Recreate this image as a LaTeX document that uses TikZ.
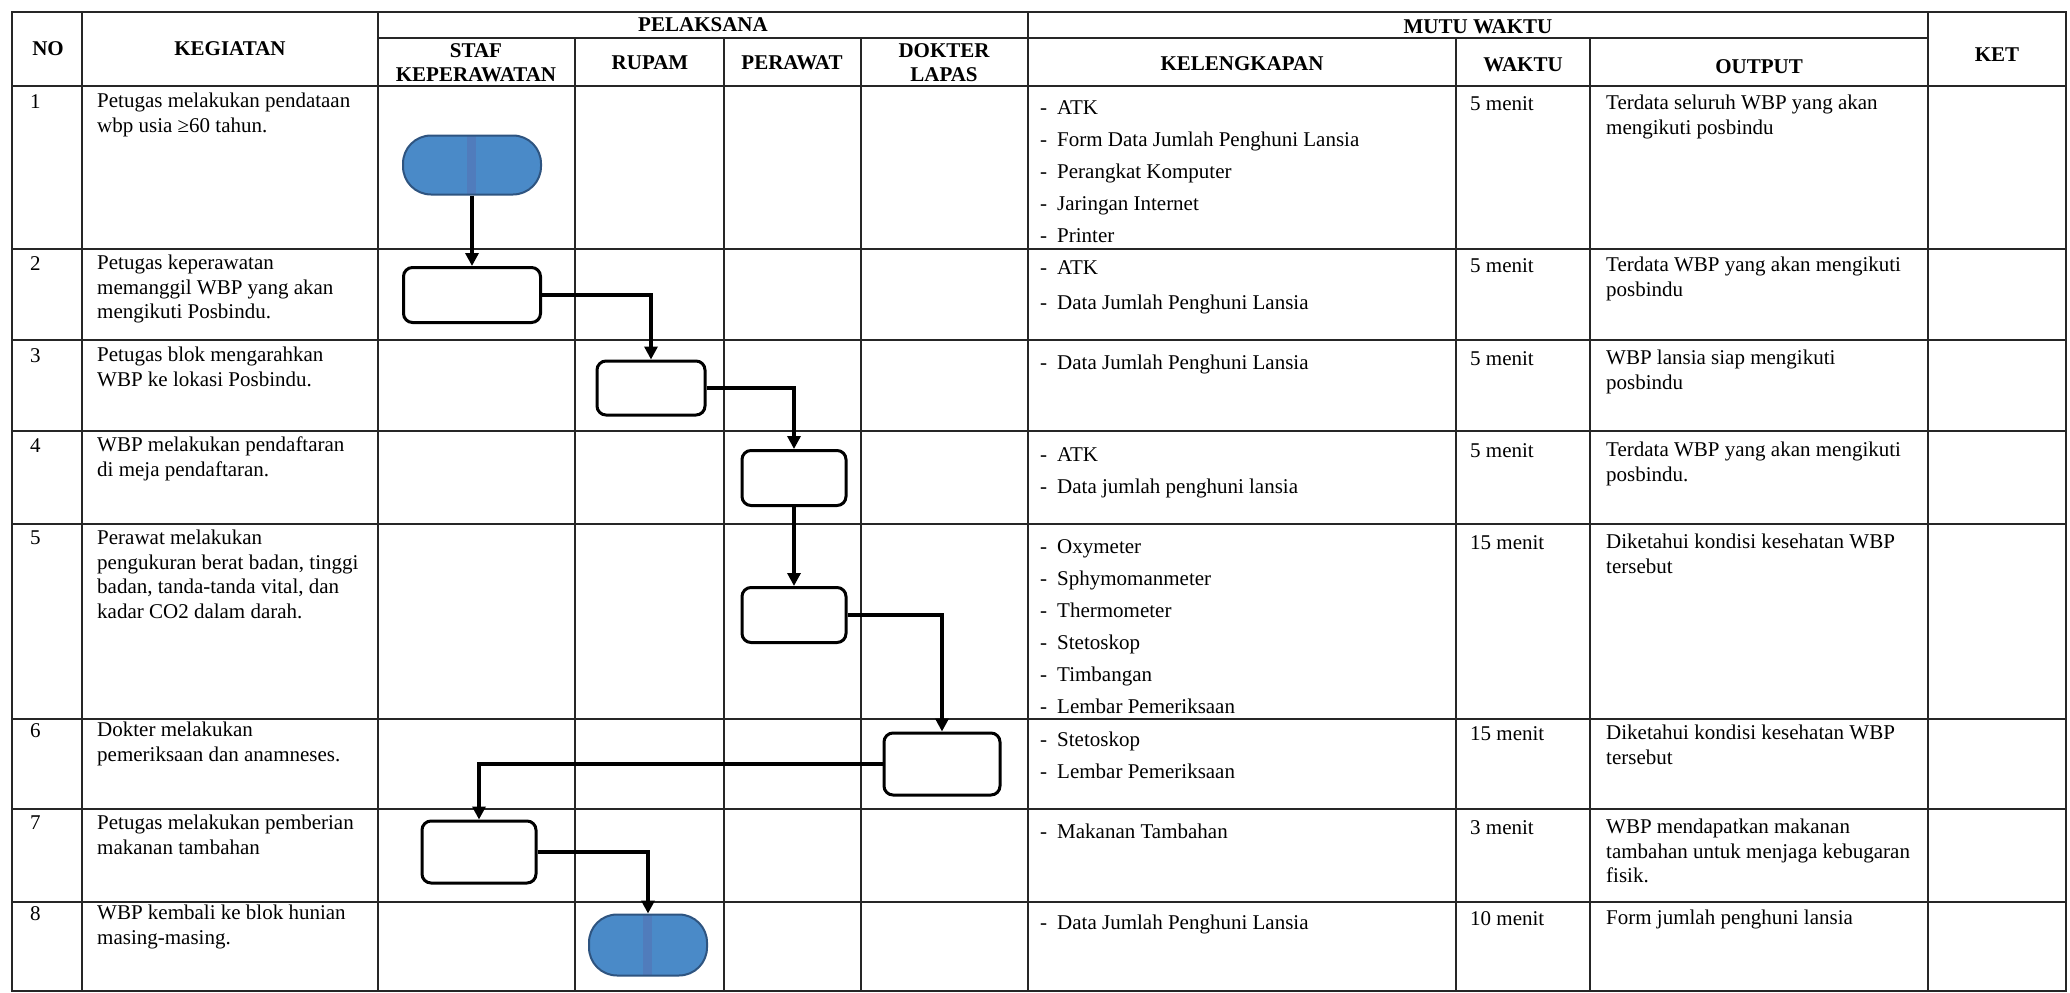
\documentclass[tikz,border=0pt]{standalone}
\usepackage{fontspec}
\setmainfont{Liberation Serif}
\usetikzlibrary{arrows.meta}
\definecolor{termblue}{RGB}{74,138,200}
\definecolor{termline}{RGB}{46,84,128}
\definecolor{termband}{RGB}{80,124,188}

\begin{document}
\begin{tikzpicture}[x=1pt,y=-1pt]
                \tikzset{GridStyle/.style={line width=1.6pt, black!85}}
                \tikzset{HeadStyle/.style={font=\fontsize{21}{24}\selectfont\bfseries, align=center, inner sep=0pt}}
                \tikzset{TextStyle/.style={font=\fontsize{21}{24.5}\selectfont, align=left, inner sep=0pt, anchor=north west}}
                \tikzset{ListStyle/.style={font=\fontsize{21}{32}\selectfont, align=left, inner sep=0pt, anchor=north west}}
                \tikzset{BoxStyle/.style={draw, line width=3pt, rounded corners=9pt, fill=white, inner sep=0pt}}
                \tikzset{TermStyle/.style={draw=termline, line width=2pt, rounded corners=28pt, fill=termblue, inner sep=0pt,
                    path picture={\fill[termband, sharp corners] ([xshift=-5pt]path picture bounding box.north) rectangle ([xshift=4pt]path picture bounding box.south);}}}
                \tikzset{EdgeStyle/.style={line width=3.5pt, -{Triangle[length=13pt,width=13pt]}}}
                \useasboundingbox[fill=white] (0,0) rectangle (2070,993);

                \draw[GridStyle] (12,12) rectangle (2066,991);
                \draw[GridStyle] (378,38) -- (1928,38);
                \draw[GridStyle] (12,86) -- (2066,86);
                \draw[GridStyle] (12,249) -- (2066,249);
                \draw[GridStyle] (12,340) -- (2066,340);
                \draw[GridStyle] (12,431) -- (2066,431);
                \draw[GridStyle] (12,524) -- (2066,524);
                \draw[GridStyle] (12,719) -- (2066,719);
                \draw[GridStyle] (12,809) -- (2066,809);
                \draw[GridStyle] (12,902) -- (2066,902);
                \draw[GridStyle] (82,12) -- (82,991);
                \draw[GridStyle] (378,12) -- (378,991);
                \draw[GridStyle] (1028,12) -- (1028,991);
                \draw[GridStyle] (1928,12) -- (1928,991);
                \draw[GridStyle] (575,38) -- (575,991);
                \draw[GridStyle] (724,38) -- (724,991);
                \draw[GridStyle] (861,38) -- (861,991);
                \draw[GridStyle] (1456,38) -- (1456,991);
                \draw[GridStyle] (1590,38) -- (1590,991);

                \node[HeadStyle] (HNo) at (48,49) {NO};
                \node[HeadStyle] (HKeg) at (230,49) {KEGIATAN};
                \node[HeadStyle] (HPel) at (703,25) {PELAKSANA};
                \node[HeadStyle] (HMutu) at (1478,27) {MUTU WAKTU};
                \node[HeadStyle] (HKet) at (1997,55) {KET};
                \node[HeadStyle] (HStaf) at (476,63) {STAF\\KEPERAWATAN};
                \node[HeadStyle] (HRupam) at (650,63) {RUPAM};
                \node[HeadStyle] (HPerawat) at (792,63) {PERAWAT};
                \node[HeadStyle] (HDokter) at (944,63) {DOKTER\\LAPAS};
                \node[HeadStyle] (HKel) at (1242,64) {KELENGKAPAN};
                \node[HeadStyle] (HWaktu) at (1523,65) {WAKTU};
                \node[HeadStyle] (HOut) at (1759,67) {OUTPUT};

                \node[TextStyle] (No1) at (30,94) {1};
                \node[TextStyle] (No2) at (30,256) {2};
                \node[TextStyle] (No3) at (30,348) {3};
                \node[TextStyle] (No4) at (30,438) {4};
                \node[TextStyle] (No5) at (30,531) {5};
                \node[TextStyle] (No6) at (30,723) {6};
                \node[TextStyle] (No7) at (30,816) {7};
                \node[TextStyle] (No8) at (30,906) {8};

                \node[TextStyle] (Keg1) at (97,93) {Petugas melakukan pendataan\\wbp usia ≥60 tahun.};
                \node[TextStyle] (Keg2) at (97,255) {Petugas keperawatan\\memanggil WBP yang akan\\mengikuti Posbindu.};
                \node[TextStyle] (Keg3) at (97,347) {Petugas blok mengarahkan\\WBP ke lokasi Posbindu.};
                \node[TextStyle] (Keg4) at (97,437) {WBP melakukan pendaftaran\\di meja pendaftaran.};
                \node[TextStyle] (Keg5) at (97,530) {Perawat melakukan\\pengukuran berat badan, tinggi\\badan, tanda-tanda vital, dan\\kadar CO2 dalam darah.};
                \node[TextStyle] (Keg6) at (97,722) {Dokter melakukan\\pemeriksaan dan anamneses.};
                \node[TextStyle] (Keg7) at (97,815) {Petugas melakukan pemberian\\makanan tambahan};
                \node[TextStyle] (Keg8) at (97,905) {WBP kembali ke blok hunian\\masing-masing.};

                \node[ListStyle] (Kel1) at (1040,100) {-\hspace{10pt}ATK\\-\hspace{10pt}Form Data Jumlah Penghuni Lansia\\-\hspace{10pt}Perangkat Komputer\\-\hspace{10pt}Jaringan Internet\\-\hspace{10pt}Printer};
                \node[ListStyle, font=\fontsize{21}{35}\selectfont] (Kel2) at (1040,260) {-\hspace{10pt}ATK\\-\hspace{10pt}Data Jumlah Penghuni Lansia};
                \node[ListStyle] (Kel3) at (1040,355) {-\hspace{10pt}Data Jumlah Penghuni Lansia};
                \node[ListStyle] (Kel4) at (1040,447) {-\hspace{10pt}ATK\\-\hspace{10pt}Data jumlah penghuni lansia};
                \node[ListStyle] (Kel5) at (1040,539) {-\hspace{10pt}Oxymeter\\-\hspace{10pt}Sphymomanmeter\\-\hspace{10pt}Thermometer\\-\hspace{10pt}Stetoskop\\-\hspace{10pt}Timbangan\\-\hspace{10pt}Lembar Pemeriksaan};
                \node[ListStyle] (Kel6) at (1040,732) {-\hspace{10pt}Stetoskop\\-\hspace{10pt}Lembar Pemeriksaan};
                \node[ListStyle] (Kel7) at (1040,824) {-\hspace{10pt}Makanan Tambahan};
                \node[ListStyle] (Kel8) at (1040,915) {-\hspace{10pt}Data Jumlah Penghuni Lansia};

                \node[TextStyle] (Wkt1) at (1470,96) {5 menit};
                \node[TextStyle] (Wkt2) at (1470,258) {5 menit};
                \node[TextStyle] (Wkt3) at (1470,351) {5 menit};
                \node[TextStyle] (Wkt4) at (1470,443) {5 menit};
                \node[TextStyle] (Wkt5) at (1470,535) {15 menit};
                \node[TextStyle] (Wkt6) at (1470,726) {15 menit};
                \node[TextStyle] (Wkt7) at (1470,820) {3 menit};
                \node[TextStyle] (Wkt8) at (1470,911) {10 menit};

                \node[TextStyle] (Out1) at (1606,95) {Terdata seluruh WBP yang akan\\mengikuti posbindu};
                \node[TextStyle] (Out2) at (1606,257) {Terdata WBP yang akan mengikuti\\posbindu};
                \node[TextStyle] (Out3) at (1606,350) {WBP lansia siap mengikuti\\posbindu};
                \node[TextStyle] (Out4) at (1606,442) {Terdata WBP yang akan mengikuti\\posbindu.};
                \node[TextStyle] (Out5) at (1606,534) {Diketahui kondisi kesehatan WBP\\tersebut};
                \node[TextStyle] (Out6) at (1606,725) {Diketahui kondisi kesehatan WBP\\tersebut};
                \node[TextStyle] (Out7) at (1606,819) {WBP mendapatkan makanan\\tambahan untuk menjaga kebugaran\\fisik.};
                \node[TextStyle] (Out8) at (1606,910) {Form jumlah penghuni lansia};

                \node[TermStyle, minimum width=138pt, minimum height=59pt] (S1) at (472,165) {};
                \node[BoxStyle, minimum width=137pt, minimum height=55pt] (S2) at (472,295) {};
                \node[BoxStyle, minimum width=108pt, minimum height=54pt] (S3) at (651,388) {};
                \node[BoxStyle, minimum width=104pt, minimum height=55pt] (S4) at (794,478) {};
                \node[BoxStyle, minimum width=104pt, minimum height=55pt] (S5) at (794,615) {};
                \node[BoxStyle, minimum width=116pt, minimum height=62pt] (S6) at (942,764) {};
                \node[BoxStyle, minimum width=114pt, minimum height=62pt] (S7) at (479,852) {};
                \node[TermStyle, minimum width=118pt, minimum height=61pt] (S8) at (648,945) {};

                \draw[EdgeStyle] (S1) -- (S2);
                \draw[EdgeStyle] (S2.east) -| (S3.north);
                \draw[EdgeStyle] (S3.east) -| (S4.north);
                \draw[EdgeStyle] (S4) -- (S5);
                \draw[EdgeStyle] (S5.east) -| (S6.north);
                \draw[EdgeStyle] (S6.west) -| (S7.north);
                \draw[EdgeStyle] (S7.east) -| (S8.north);
\end{tikzpicture}
\end{document}
